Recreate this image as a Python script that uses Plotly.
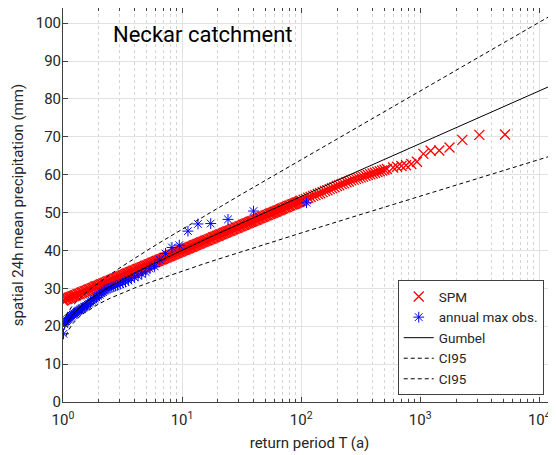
import plotly.graph_objects as go

# ---------------- data ----------------
# SPM (simulated) sorted sample: return period T (a) and value (mm), read along the red band
spm_T = [
    1.000, 1.023, 1.047, 1.072, 1.096, 1.122, 1.148, 1.175, 1.202, 1.230,
    1.259, 1.288, 1.318, 1.349, 1.380, 1.413, 1.445, 1.479, 1.514, 1.549,
    1.585, 1.622, 1.660, 1.698, 1.738, 1.778, 1.820, 1.862, 1.905, 1.950,
    1.995, 2.042, 2.089, 2.138, 2.188, 2.239, 2.291, 2.344, 2.399, 2.455,
    2.512, 2.570, 2.630, 2.692, 2.754, 2.818, 2.884, 2.951, 3.020, 3.090,
    3.162, 3.236, 3.311, 3.388, 3.467, 3.548, 3.631, 3.715, 3.802, 3.890,
    3.981, 4.074, 4.169, 4.266, 4.365, 4.467, 4.571, 4.677, 4.786, 4.898,
    5.012, 5.129, 5.248, 5.370, 5.495, 5.623, 5.754, 5.888, 6.026, 6.166,
    6.310, 6.457, 6.607, 6.761, 6.918, 7.079, 7.244, 7.413, 7.586, 7.762,
    7.943, 8.128, 8.318, 8.511, 8.710, 8.913, 9.120, 9.333, 9.550, 9.772,
    10.00, 10.23, 10.47, 10.72, 10.96, 11.22, 11.48, 11.75, 12.02, 12.30,
    12.59, 12.88, 13.18, 13.49, 13.80, 14.13, 14.45, 14.79, 15.14, 15.49,
    15.85, 16.22, 16.60, 16.98, 17.38, 17.78, 18.20, 18.62, 19.05, 19.50,
    19.95, 20.42, 20.89, 21.38, 21.88, 22.39, 22.91, 23.44, 23.99, 24.55,
    25.12, 25.70, 26.30, 26.92, 27.54, 28.18, 28.84, 29.51, 30.20, 30.90,
    31.62, 32.36, 33.11, 33.88, 34.67, 35.48, 36.31, 37.15, 38.02, 38.90,
    39.81, 40.74, 41.69, 42.66, 43.65, 44.67, 45.71, 46.77, 47.86, 48.98,
    50.12, 51.29, 52.48, 53.70, 54.95, 56.23, 57.54, 58.88, 60.26, 61.66,
    63.10, 64.57, 66.07, 67.61, 69.18, 70.79, 72.44, 74.13, 75.86, 77.62,
    79.43, 81.28, 83.18, 85.11, 87.10, 89.13, 91.20, 93.33, 95.50, 97.72,
    100.0, 104.7, 109.6, 114.8, 120.2, 125.9, 131.8, 138.0, 144.5, 151.4,
    158.5, 166.0, 173.8, 182.0, 190.5, 199.5, 208.9, 218.8, 229.1, 239.9,
    251.2, 263.0, 275.4, 288.4, 302.0, 316.2, 331.1, 346.7, 363.1, 380.2,
    398.1, 416.9, 436.5, 457.1, 478.6, 501.2, 524.8,
    592, 639, 695, 760, 840, 938, 1062, 1224, 1444, 1761,
    2256, 3137, 5150, 13600]
spm_val = [
    26.8, 26.9, 27.1, 27.2, 27.3, 27.5, 27.6, 27.7, 27.9, 28.0,
    28.1, 28.2, 28.4, 28.5, 28.6, 28.8, 28.9, 29.0, 29.2, 29.3,
    29.4, 29.6, 29.7, 29.8, 30.0, 30.1, 30.2, 30.4, 30.5, 30.6,
    30.7, 30.9, 31.0, 31.1, 31.3, 31.4, 31.5, 31.7, 31.8, 31.9,
    32.1, 32.2, 32.3, 32.5, 32.6, 32.7, 32.8, 33.0, 33.1, 33.2,
    33.4, 33.5, 33.6, 33.8, 33.9, 34.0, 34.2, 34.3, 34.4, 34.6,
    34.7, 34.8, 35.0, 35.1, 35.2, 35.3, 35.5, 35.6, 35.7, 35.9,
    36.0, 36.1, 36.3, 36.4, 36.5, 36.7, 36.8, 36.9, 37.1, 37.2,
    37.3, 37.5, 37.6, 37.7, 37.8, 38.0, 38.1, 38.2, 38.4, 38.5,
    38.6, 38.8, 38.9, 39.0, 39.2, 39.3, 39.4, 39.6, 39.7, 39.8,
    40.0, 40.1, 40.2, 40.3, 40.5, 40.6, 40.7, 40.9, 41.0, 41.1,
    41.3, 41.4, 41.5, 41.7, 41.8, 41.9, 42.1, 42.2, 42.3, 42.5,
    42.6, 42.7, 42.8, 43.0, 43.1, 43.2, 43.4, 43.5, 43.6, 43.8,
    43.9, 44.0, 44.2, 44.3, 44.4, 44.6, 44.7, 44.8, 45.0, 45.1,
    45.2, 45.3, 45.5, 45.6, 45.7, 45.9, 46.0, 46.1, 46.3, 46.4,
    46.5, 46.7, 46.8, 46.9, 47.1, 47.2, 47.3, 47.5, 47.6, 47.7,
    47.8, 48.0, 48.1, 48.2, 48.4, 48.5, 48.6, 48.8, 48.9, 49.0,
    49.2, 49.3, 49.4, 49.6, 49.7, 49.8, 49.9, 50.1, 50.2, 50.3,
    50.5, 50.6, 50.7, 50.9, 51.0, 51.1, 51.3, 51.4, 51.5, 51.7,
    51.8, 51.9, 52.1, 52.2, 52.3, 52.4, 52.6, 52.7, 52.8, 53.0,
    53.1, 53.4, 53.6, 53.9, 54.1, 54.4, 54.6, 54.9, 55.1, 55.4,
    55.7, 55.9, 56.2, 56.4, 56.7, 57.0, 57.2, 57.5, 57.7, 58.0,
    58.2, 58.5, 58.7, 58.9, 59.1, 59.3, 59.5, 59.7, 59.9, 60.1,
    60.3, 60.5, 60.7, 60.9, 61.1, 61.3, 61.5,
    61.9, 62.1, 62.3, 62.5, 62.8, 63.4, 65.5, 66.3, 66.4, 67.2,
    69.2, 70.5, 70.6, 83.5]

# Annual maxima observations
obs_T = [111.0, 39.8, 24.3, 17.4, 13.6, 11.2, 9.47, 8.22, 7.26, 6.50,
         5.88, 5.37, 4.95, 4.58, 4.27, 3.99, 3.75, 3.54, 3.35, 3.18,
         3.02, 2.88, 2.75, 2.64, 2.53, 2.43, 2.34, 2.25, 2.17, 2.10,
         2.03, 1.97, 1.91, 1.85, 1.80, 1.75, 1.70, 1.65, 1.61, 1.57,
         1.53, 1.50, 1.46, 1.43, 1.39, 1.36, 1.33, 1.31, 1.28, 1.25,
         1.23, 1.21, 1.18, 1.16, 1.14, 1.12, 1.10, 1.08, 1.06, 1.04,
         1.03, 1.01]
obs_val = [52.6, 50.4, 48.2, 47.1, 47.0, 45.1, 41.4, 40.8, 39.2, 37.5,
           35.8, 35.2, 34.3, 33.8, 33.3, 32.9, 32.5, 32.1, 31.7, 31.4,
           31.1, 30.8, 30.6, 30.4, 30.2, 30.0, 29.7, 29.4, 29.0, 28.7,
           28.3, 28.0, 27.6, 27.3, 27.0, 26.7, 26.4, 26.0, 25.7, 25.4,
           25.2, 25.0, 24.8, 24.6, 24.4, 24.2, 24.0, 23.8, 23.6, 23.4,
           23.2, 23.0, 22.8, 22.5, 22.3, 22.1, 21.9, 21.6, 21.3, 21.0,
           20.5, 18.0]

# Gumbel fit and 95% confidence bounds
line_T = [1.06, 1.1, 1.2, 1.35, 1.5, 1.75, 2, 2.5, 3, 4, 5, 7, 10,
          15, 20, 30, 50, 100, 300, 1000, 3000, 13700]
gumbel = [20.13, 21.22, 22.98, 24.69, 25.93, 27.50, 28.71, 30.56,
          31.95, 34.03, 35.56, 37.79, 40.09, 42.65, 44.44, 46.94, 50.07, 54.28,
          60.94, 68.22, 74.86, 84.03]
ci_upper = [22.80, 23.76, 25.39, 27.09, 28.40, 30.13, 31.52, 33.70,
            35.39, 37.95, 39.87, 42.69, 45.62, 48.90, 51.20, 54.43, 58.48, 63.94,
            72.61, 82.09, 90.75, 102.73]
ci_lower = [17.46, 18.68, 20.57, 22.29, 23.46, 24.87, 25.90, 27.42,
            28.51, 30.11, 31.25, 32.89, 34.56, 36.40, 37.68, 39.45, 41.66, 44.62,
            49.27, 54.35, 58.97, 65.33]

x_tickvals = [1, 10, 100, 1000, 10000]
x_ticktext = ["10<sup>0</sup>", "10<sup>1</sup>", "10<sup>2</sup>", "10<sup>3</sup>", "10<sup>4</sup>"]
x_minorvals = [m * d for d in (1, 10, 100, 1000) for m in range(2, 10)]

# ---------------- figure ----------------
TXT = "#262626"
fig = go.Figure()
fig.add_trace(go.Scatter(x=spm_T, y=spm_val, mode="markers", name="SPM",
                         marker=dict(symbol="x-thin-open", size=10, color="#ff0000",
                                     line=dict(width=1.3, color="#ff0000"))))
fig.add_trace(go.Scatter(x=obs_T, y=obs_val, mode="markers", name="annual max obs.",
                         marker=dict(symbol="asterisk-open", size=9, color="#0000ff",
                                     line=dict(width=1, color="#0000ff"))))
fig.add_trace(go.Scatter(x=line_T, y=gumbel, mode="lines", name="Gumbel",
                         line=dict(color="black", width=1)))
fig.add_trace(go.Scatter(x=line_T, y=ci_upper, mode="lines", name="CI95",
                         line=dict(color="black", width=1, dash="4px,3px")))
fig.add_trace(go.Scatter(x=line_T, y=ci_lower, mode="lines", name="CI95",
                         line=dict(color="black", width=1, dash="4px,3px")))

axis_common = dict(showline=True, linecolor="#404040", linewidth=1, mirror="allticks",
                   ticks="inside", ticklen=5, tickcolor="#404040",
                   tickfont=dict(family="Roboto", size=15, color=TXT),
                   showgrid=True, gridcolor="#e2e2e2", gridwidth=1, zeroline=False)

fig.update_xaxes(type="log", range=[0, 4.14], tickmode="array",
                 tickvals=x_tickvals, ticktext=x_ticktext, ticklabelstandoff=4,
                 minor=dict(tickmode="array", tickvals=x_minorvals, ticks="inside",
                            ticklen=3, tickcolor="#404040", showgrid=True,
                            gridcolor="#d4d4d4", griddash="dot", gridwidth=1),
                 title=dict(text="return period T (a)", standoff=9,
                            font=dict(family="Roboto", size=15, color=TXT)),
                 **axis_common)
fig.update_yaxes(range=[0, 104], tickmode="linear", tick0=0, dtick=10,
                 ticklabelstandoff=-2,
                 title=dict(text="spatial 24h mean precipitation (mm)", standoff=8,
                            font=dict(family="Roboto", size=15, color=TXT)),
                 **axis_common)

fig.add_annotation(text="Neckar catchment", xref="paper", yref="paper",
                   x=0.097, y=0.934, xanchor="left", yanchor="middle", showarrow=False,
                   font=dict(family="Roboto", size=22, color="black"))

# page body has an 8px margin, so the figure is sized/offset to fit 556x455
fig.update_layout(width=548, height=447,
                  margin=dict(l=55, r=0, t=0, b=53, autoexpand=False),
                  paper_bgcolor="white", plot_bgcolor="white",
                  showlegend=True,
                  legend=dict(x=0.679, y=0.017, xanchor="left", yanchor="bottom",
                              bgcolor="white", bordercolor="#404040", borderwidth=1,
                              font=dict(family="Roboto", size=13.5, color=TXT),
                              tracegroupgap=0, itemwidth=30))

fig.write_html("out.html")
